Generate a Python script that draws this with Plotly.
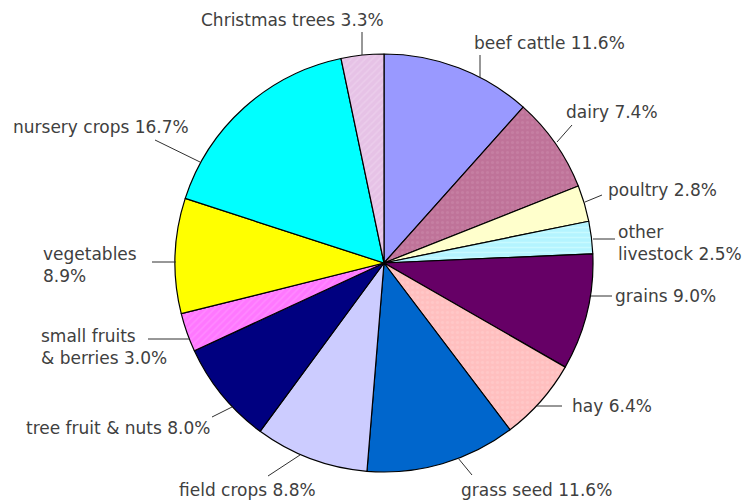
import plotly.graph_objects as go

# Share of farm sales by commodity (percent), clockwise from 12 o'clock
categories = ["beef cattle", "dairy", "poultry", "other livestock", "grains", "hay",
              "grass seed", "field crops", "tree fruit & nuts", "small fruits & berries",
              "vegetables", "nursery crops", "Christmas trees"]
shares = [11.6, 7.4, 2.8, 2.5, 9.0, 6.4, 11.6, 8.8, 8.0, 3.0, 8.9, 16.7, 3.3]

# How each label is broken into lines
label_heads = ["beef cattle", "dairy", "poultry", "other<br>livestock", "grains", "hay",
               "grass seed", "field crops", "tree fruit & nuts", "small fruits<br>& berries",
               "vegetables<br>", "nursery crops", "Christmas trees"]

# Slice fills and subtle textures
fill_colors = ["#9999ff", "#bf7399", "#ffffcc", "#b4f4ff", "#660066", "#ffbfbf",
               "#0066cc", "#ccccff", "#000080", "#ff77ff", "#ffff00", "#00ffff", "#e6c2e6"]
pattern_shapes = ["", ".", "", "-", "", ".", "", "", "", "/", "", "", "/"]
pattern_fg = ["#9999ff", "#cc8aab", "#ffffcc", "#dcffff", "#660066", "#ffd0d0",
              "#0066cc", "#ccccff", "#000080", "#ff9cff", "#ffff00", "#00ffff", "#efd6ef"]

W, H = 744, 500
CX, CY, R = 384, 263, 209

# Label placement (pixels): text anchor x, y, horizontal anchor, and leader line endpoints
label_pos = [
    (472, 43, "left", (480, 55), (480, 77)),
    (564, 112, "left", (572, 125), (557, 142)),
    (606, 190, "left", (602, 195), (585, 202)),
    (616, 243, "left", (615, 239), (593, 239)),
    (613, 296, "left", (612, 296), (591, 296)),
    (570, 406, "left", (562, 406), (537, 406)),
    (459, 490, "left", (472, 475), (458, 458)),
    (177, 490, "left", (268, 476), (300, 455)),
    (24, 428, "left", (212, 417), (232, 407)),
    (39, 347, "left", (148, 339), (189, 339)),
    (41, 265, "left", (152, 262), (176, 262)),
    (11, 127, "left", (155, 140), (200, 162)),
    (199, 20, "left", (362, 32), (362, 55)),
]

fig = go.Figure(go.Pie(
    labels=categories,
    values=shares,
    sort=False,
    direction="clockwise",
    rotation=0,
    textinfo="none",
    hoverinfo="label+percent",
    marker=dict(
        colors=fill_colors,
        line=dict(color="#000000", width=1.2),
        pattern=dict(shape=pattern_shapes, fgcolor=pattern_fg, fillmode="overlay",
                     size=5, solidity=0.3),
    ),
    domain=dict(x=[(CX - R) / W, (CX + R) / W], y=[(H - CY - R) / H, (H - CY + R) / H]),
))

annotations = []
shapes = []
for head, v, (tx, ty, anchor, p0, p1) in zip(label_heads, shares, label_pos):
    sep = "" if head.endswith("<br>") else " "
    annotations.append(dict(
        text=f"{head}{sep}{v:.1f}%", xref="paper", yref="paper",
        x=tx / W, y=1 - ty / H, xanchor=anchor, yanchor="middle", align="left",
        showarrow=False, font=dict(family="DejaVu Sans", size=17, color="#404040"),
    ))
    shapes.append(dict(
        type="line", xref="paper", yref="paper",
        x0=p0[0] / W, y0=1 - p0[1] / H, x1=p1[0] / W, y1=1 - p1[1] / H,
        line=dict(color="#303030", width=1),
    ))

fig.update_layout(
    width=W, height=H,
    margin=dict(l=0, r=0, t=0, b=0),
    paper_bgcolor="white", plot_bgcolor="white",
    showlegend=False,
    annotations=annotations,
    shapes=shapes,
)

fig.write_html("out.html")
